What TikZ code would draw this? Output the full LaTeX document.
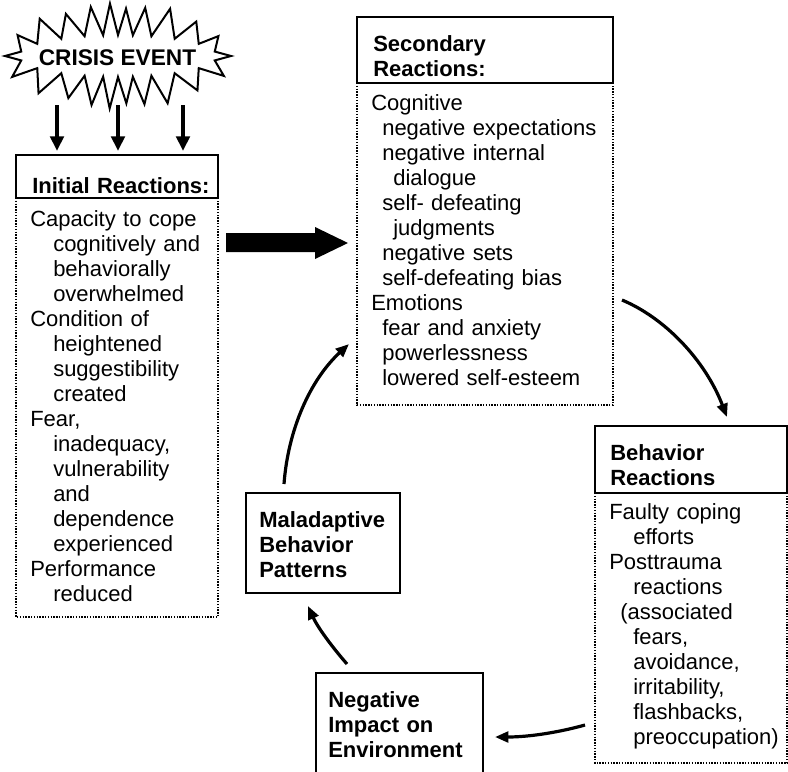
\documentclass[tikz,border=0pt]{standalone}
\usepackage{fontspec}
\setmainfont{Liberation Sans}
\usetikzlibrary{arrows.meta}
\newcommand\inda{\hspace*{17.25pt}}
\newcommand\indb{\hspace*{8.25pt}}
\newcommand\indc{\hspace*{16.5pt}}
\newcommand\indd{\hspace*{18pt}}

\begin{document}
\begin{tikzpicture}[x=0.75pt,y=-0.75pt,
  txt/.style={anchor=base west,inner sep=0pt,align=left,font=\fontsize{16.5}{18.75}\selectfont},
  hd/.style={txt,font=\bfseries\fontsize{16.5}{18.75}\selectfont},
  hdbox/.style={line width=1.5pt},
  bodybox/.style={densely dotted,line width=1.1pt},
  flow/.style={line width=2.4pt,-{Triangle[length=10pt,width=8pt]}},
  drop/.style={line width=3pt,-{Triangle[length=11pt,width=10pt]}}]
\useasboundingbox (0,0) rectangle (788,771);
\def\stx{118}
\def\sty{56}

% crisis burst
\draw[line width=1.5pt,line join=miter] (\stx+113,\sty)
  \foreach \i [evaluate=\i as \u using \i*360/44,
               evaluate=\i as \t using \u+14.3*sin(2*\u),
               evaluate=\i as \ra using {mod(\i,2)==0 ? 113+3*sin(5*\u) : 99},
               evaluate=\i as \rb using {mod(\i,2)==0 ? 50+3*cos(7*\u) : 21}] in {1,...,43}
  { -- ({\stx+\ra*cos(\t)},{\sty+\rb*sin(\t)}) } -- cycle;
\node[inner sep=0pt,font=\bfseries\fontsize{17}{20}\selectfont] (crisis) at (117.5,57.5) {CRISIS EVENT};
\foreach \x [count=\k] in {57,118,183} {
  \coordinate (d\k) at (\x,105);
  \coordinate (e\k) at (\x,151);
  \draw[drop] (d\k) -- (e\k);
}

% initial reactions
\draw[hdbox] (16,155) rectangle (218,198);
\draw[bodybox] (16,198) -- (16,617) -- (218,617) -- (218,198);
\node[hd,text width=180pt] (inith) at (32,193) {Initial Reactions:};
\node[txt,text width=145pt] (initb) at (30,226) {Capacity to cope\\
\inda cognitively and\\
\inda behaviorally\\
\inda overwhelmed\\
Condition of\\
\inda heightened\\
\inda suggestibility\\
\inda created\\
Fear,\\
\inda inadequacy,\\
\inda vulnerability\\
\inda and\\
\inda dependence\\
\inda experienced\\
Performance\\
\inda reduced};

% big arrow
\fill (226,233) -- (315,233) -- (315,227) -- (348,243) -- (315,259) -- (315,252) -- (226,252) -- cycle;

% secondary reactions
\draw[hdbox] (357,17) rectangle (613,83);
\draw[bodybox] (357,83) -- (357,405) -- (613,405) -- (613,83);
\node[hd,text width=180pt] (sech) at (373,51) {Secondary\\Reactions:};
\node[txt,text width=180pt] (secb) at (371,110) {Cognitive\\
\indb negative expectations\\
\indb negative internal\\
\indc dialogue\\
\indb self- defeating\\
\indc judgments\\
\indb negative sets\\
\indb self-defeating bias\\
Emotions\\
\indb fear and anxiety\\
\indb powerlessness\\
\indb lowered self-esteem};

% behavior reactions
\draw[hdbox] (595,426) rectangle (787,493);
\draw[bodybox] (595,493) -- (595,763) -- (787,763) -- (787,493);
\node[hd,text width=140pt] (behh) at (610,460) {Behavior\\Reactions};
\node[txt,text width=140pt] (behb) at (609,519) {Faulty coping\\
\indd efforts\\
Posttrauma\\
\indd reactions\\
\indb (associated\\
\indd fears,\\
\indd avoidance,\\
\indd irritability,\\
\indd flashbacks,\\
\indd preoccupation)};

% maladaptive and negative impact
\draw[hdbox] (246,493) rectangle (400,593);
\node[hd,text width=110pt] (mal) at (259,527) {Maladaptive\\Behavior\\Patterns};
\draw[hdbox] (316,673) rectangle (483,800);
\node[hd,text width=120pt] (neg) at (328,707) {Negative\\Impact on\\Environment};

% cycle
\coordinate (a1s) at (622,300);
\coordinate (a1e) at (727,417);
\coordinate (a2s) at (585,725);
\coordinate (a2e) at (495,737);
\coordinate (a3s) at (347,664);
\coordinate (a3e) at (308,606);
\coordinate (a4s) at (284,484);
\coordinate (a4e) at (349,344);
\draw[flow] (a1s) .. controls (665,318) and (705,360) .. (a1e);
\draw[flow] (a2s) .. controls (560,732) and (530,737) .. (a2e);
\draw[flow] (a3s) .. controls (333,648) and (318,628) .. (a3e);
\draw[flow] (a4s) .. controls (288,430) and (310,380) .. (a4e);
\end{tikzpicture}
\end{document}
